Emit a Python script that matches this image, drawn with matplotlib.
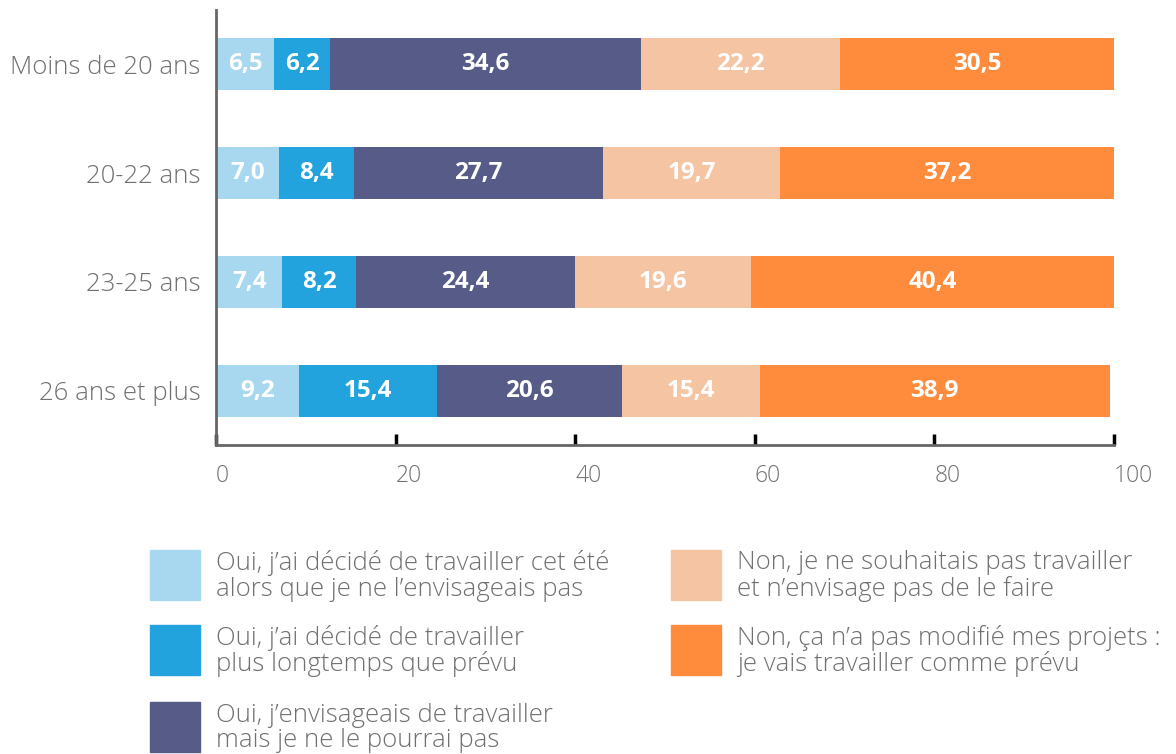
import matplotlib.pyplot as plt
from matplotlib.patches import Rectangle
import numpy as np

plt.rcParams['font.family'] = ['Open Sans', 'DejaVu Sans']

categories = ["Moins de 20 ans", "20-22 ans", "23-25 ans", "26 ans et plus"]
series_labels = [
    "Oui, j\u2019ai décidé de travailler cet été\nalors que je ne l\u2019envisageais pas",
    "Oui, j\u2019ai décidé de travailler\nplus longtemps que prévu",
    "Oui, j\u2019envisageais de travailler\nmais je ne le pourrai pas",
    "Non, je ne souhaitais pas travailler\net n\u2019envisage pas de le faire",
    "Non, ça n\u2019a pas modifié mes projets :\nje vais travailler comme prévu",
]
values = [
    [6.5, 7.0, 7.4, 9.2],
    [6.2, 8.4, 8.2, 15.4],
    [34.6, 27.7, 24.4, 20.6],
    [22.2, 19.7, 19.6, 15.4],
    [30.5, 37.2, 40.4, 38.9],
]
colors = ["#A8D8F0", "#22A3DD", "#565B87", "#F5C4A3", "#FF8C3C"]
xticks = [0, 20, 40, 60, 80, 100]

grey = "#707070"

fig = plt.figure(figsize=(11.76, 7.54), dpi=100)
W, H = 1176, 754
ax = fig.add_axes([216 / W, 1 - 445 / H, (1114 - 216) / W, (445 - 10) / H])

y = np.arange(len(categories))
left = np.zeros(len(categories))
for vals, col in zip(values, colors):
    vals = np.array(vals)
    bars = ax.barh(y, vals, left=left, height=0.48, color=col)
    ax.bar_label(bars, labels=[f"{v:.1f}".replace(".", ",") for v in vals],
                 label_type="center", color="white", fontsize=17.5, fontweight="bold")
    left += vals

ax.set_xlim(0, 100)
ax.set_ylim(3.5, -0.5)
ax.set_yticks(y)
ax.set_yticklabels(categories, fontsize=18.5, color=grey, fontweight="light")
ax.tick_params(axis="y", length=0, pad=11)
ax.set_xticks(xticks)
ax.set_xticklabels([str(t) for t in xticks], fontsize=16.5, color=grey,
                   fontweight="light", ha="left")
ax.tick_params(axis="x", direction="in", length=8, width=2.5, color="black", pad=14)

for s in ["top", "right"]:
    ax.spines[s].set_visible(False)
for s in ["left", "bottom"]:
    ax.spines[s].set_color("#666666")
    ax.spines[s].set_linewidth(2)

# legend, two columns
legend_pos = [(150, 550), (150, 625), (150, 702), (671, 550), (671, 625)]
for (px, py), lab, col in zip(legend_pos, series_labels, colors):
    fig.add_artist(Rectangle((px / W, 1 - (py + 50) / H), 50 / W, 50 / H,
                             transform=fig.transFigure, color=col))
    fig.text((px + 66) / W, 1 - (py + 26) / H, lab, fontsize=18.5, color=grey,
             fontweight="light", va="center", ha="left", linespacing=1.02)

fig.savefig("out.png", dpi=100)
